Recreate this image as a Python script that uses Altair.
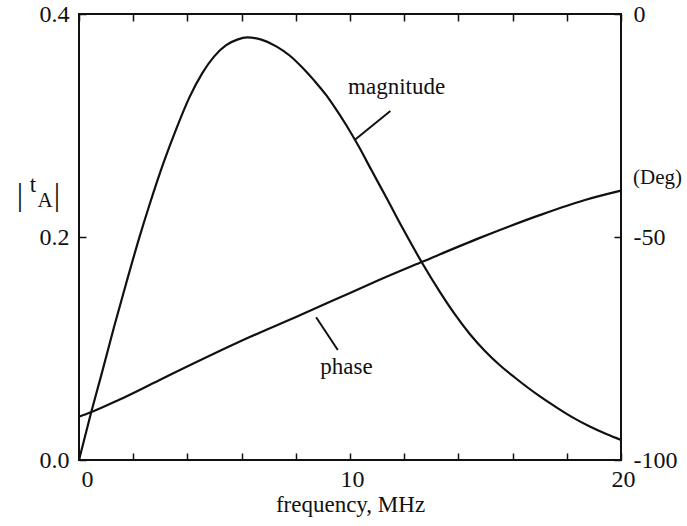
import altair as alt
import pandas as pd

# |t_A| magnitude read along the frequency axis (MHz)
mag_freq = [0, 0.44, 0.81, 1.29, 1.77, 2.22, 2.59, 3.14, 3.59, 4.07,
            4.55, 4.99, 5.43, 5.84, 6.21, 6.73, 7.28, 7.76, 8.24, 8.69,
            9.13, 9.50, 9.87, 10.35, 10.79, 11.35, 11.94, 12.68, 13.31, 13.86,
            14.42, 14.97, 15.53, 16.08, 17.01, 17.63, 18.23, 18.85, 19.48, 20.0]
mag_vals = [0, 0.042, 0.075, 0.119, 0.161, 0.199, 0.228, 0.268, 0.297, 0.325,
            0.347, 0.362, 0.372, 0.377, 0.379, 0.377, 0.371, 0.363, 0.352, 0.340,
            0.327, 0.314, 0.300, 0.280, 0.260, 0.235, 0.208, 0.176, 0.151, 0.131,
            0.113, 0.098, 0.085, 0.074, 0.057, 0.047, 0.038, 0.030, 0.023, 0.018]

# phase in degrees
phase_freq = [0, 0.44, 1.48, 2.96, 6.28, 8.13, 9.98, 11.09, 12.69, 14.79, 17.0, 18.67, 20.0]
phase_deg = [-90.3, -89.3, -86.5, -82.1, -72.5, -67.6, -62.6, -59.6, -55.5, -50.2, -45.1, -41.7, -39.6]

freq_ticks = [0, 2, 4, 6, 8, 10, 12, 14, 16, 18, 20]
mag_ticks = [0, 0.2, 0.4]
deg_ticks = [-100, -50, 0]

# curve names and their leader lines, in data units (MHz, |t_A|)
curve_names = ["magnitude", "phase"]
name_freq = [11.72, 9.87]
name_mag = [0.3346, 0.0834]
lead_f1 = [10.17, 8.75]
lead_m1 = [0.287, 0.128]
lead_f2 = [11.49, 9.55]
lead_m2 = [0.313, 0.0987]

W, H = 542, 446
FONT = "Liberation Serif"
INK = "#111111"
TICK = 7

xs = alt.Scale(domain=[0, 20], nice=False, zero=False)
ys_mag = alt.Scale(domain=[0, 0.4], nice=False)
ys_deg = alt.Scale(domain=[-100, 0], nice=False)

mag_df = pd.DataFrame({"f": mag_freq, "m": mag_vals})
ph_df = pd.DataFrame({"f": phase_freq, "d": phase_deg})
name_df = pd.DataFrame({"name": curve_names, "f": name_freq, "m": name_mag})
lead_df = pd.DataFrame({"f1": lead_f1, "m1": lead_m1, "f2": lead_f2, "m2": lead_m2})

common_axis = dict(domain=False, grid=False, tickSize=TICK, offset=-TICK,
                   tickColor=INK, tickWidth=1.5, labelFont=FONT, labelFontSize=24,
                   labelColor=INK, labelOverlap=False)

bottom_axis = alt.Axis(
    orient="bottom", values=freq_ticks,
    labelExpr="datum.value % 10 === 0 ? datum.value : ''",
    labelFlush=False, labelPadding=7,
    labelOffset={"condition": {"test": "datum.value === 0", "value": 8}, "value": 2},
    title="frequency, MHz", titleFont=FONT, titleFontSize=23,
    titleFontWeight="normal", titleColor=INK, titlePadding=2,
    **common_axis)
top_axis = alt.Axis(orient="top", values=freq_ticks, labels=False, title=None, **common_axis)
left_axis = alt.Axis(orient="left", values=mag_ticks, format=".1f", labelPadding=10,
                     labelBaseline="middle", title=None, **common_axis)
# plain hyphen for negative degrees
right_axis = alt.Axis(orient="right", values=deg_ticks, labelPadding=12,
                      labelExpr="datum.value < 0 ? '-' + (-datum.value) : '' + datum.value",
                      labelBaseline="middle", title=None, **common_axis)

mag_line = alt.Chart(mag_df).mark_line(color=INK, strokeWidth=2.2, interpolate="monotone").encode(
    x=alt.X("f:Q", scale=xs, axis=bottom_axis),
    y=alt.Y("m:Q", scale=ys_mag, axis=left_axis),
)

phase_line = alt.Chart(ph_df).mark_line(color=INK, strokeWidth=2.2, interpolate="monotone").encode(
    x=alt.X("f:Q", scale=xs, axis=top_axis),
    y=alt.Y("d:Q", scale=ys_deg, axis=right_axis),
)

leaders = alt.Chart(lead_df).mark_rule(color=INK, strokeWidth=2).encode(
    x=alt.X("f1:Q", scale=xs, axis=None),
    x2="f2:Q",
    y=alt.Y("m1:Q", scale=ys_mag, axis=None),
    y2="m2:Q",
)

names = alt.Chart(name_df).mark_text(font=FONT, fontSize=23, color=INK,
                                     align="center", baseline="middle").encode(
    x=alt.X("f:Q", scale=xs, axis=None),
    y=alt.Y("m:Q", scale=ys_mag, axis=None),
    text="name:N",
)

# left axis title |t_A| with subscript A
bar_l = alt.Chart(pd.DataFrame({"t": ["|"]})).mark_text(
    font=FONT, fontSize=32, color=INK, align="center", baseline="middle").encode(
    x=alt.value(-59), y=alt.value(181), text="t:N")
t_main = alt.Chart(pd.DataFrame({"t": ["t"]})).mark_text(
    font=FONT, fontSize=23, color=INK, align="center", baseline="middle").encode(
    x=alt.value(-46), y=alt.value(171), text="t:N")
t_sub = alt.Chart(pd.DataFrame({"t": ["A"]})).mark_text(
    font=FONT, fontSize=21, color=INK, align="center", baseline="middle").encode(
    x=alt.value(-34), y=alt.value(187), text="t:N")
bar_r = alt.Chart(pd.DataFrame({"t": ["|"]})).mark_text(
    font=FONT, fontSize=32, color=INK, align="center", baseline="middle").encode(
    x=alt.value(-22), y=alt.value(181), text="t:N")

deg_title = alt.Chart(pd.DataFrame({"t": ["(Deg)"]})).mark_text(
    font=FONT, fontSize=21, color=INK, align="left", baseline="middle").encode(
    x=alt.value(W + 12), y=alt.value(164), text="t:N")

chart = alt.layer(
    mag_line, phase_line, leaders, names, bar_l, t_main, t_sub, bar_r, deg_title
).resolve_scale(y="independent").resolve_axis(x="independent", y="independent").properties(
    width=W, height=H,
    padding={"left": 79, "top": 14, "right": 66, "bottom": 66},
    autosize=alt.AutoSizeParams(type="none"),
    background="white",
).configure_view(stroke=INK, strokeWidth=2)

chart.save("out.html", embed_options={"renderer": "svg", "actions": False})
